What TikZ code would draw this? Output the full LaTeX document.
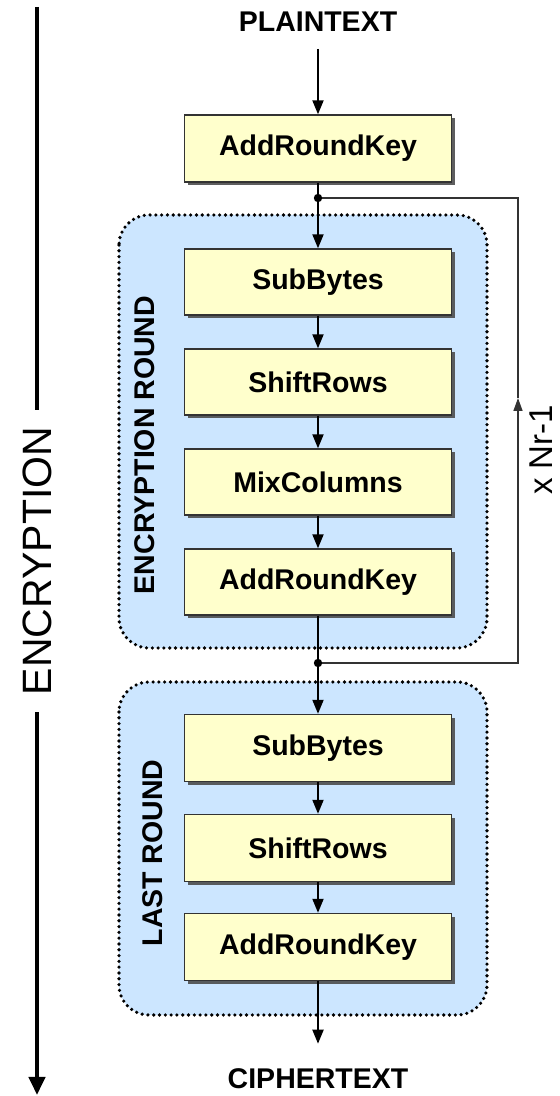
\documentclass[tikz,border=0pt]{standalone}
\usepackage{fontspec}
\setmainfont{Liberation Sans}
\usetikzlibrary{arrows.meta,shadows}
\definecolor{stepyellow}{RGB}{255,255,204}
\definecolor{roundblue}{RGB}{204,230,255}

\begin{document}
\begin{tikzpicture}[x=1pt, y=1pt, node distance=100pt,
        stepbox/.style={draw=black!80, line width=1.4pt, fill=stepyellow,
            minimum width=267pt, minimum height=66pt, inner sep=0pt,
            font=\bfseries\fontsize{28.5}{30}\selectfont,
            drop shadow={shadow xshift=3.5pt, shadow yshift=-3.5pt, fill=black!70, opacity=.9}},
        roundbox/.style={fill=roundblue, draw=black, line width=3.6pt,
            dash pattern=on 0pt off 5.8pt, line cap=round, rounded corners=30pt},
        roundlbl/.style={rotate=90, font=\bfseries\fontsize{28.5}{30}\selectfont},
        endtext/.style={font=\bfseries\fontsize{28.5}{30}\selectfont, inner xsep=2pt, inner ysep=1pt},
        flow/.style={-{Triangle[length=14pt,width=11pt]}, line width=2pt},
        loopline/.style={draw=black!80, line width=1.5pt}]
                \useasboundingbox (0,0) rectangle (560,1096);
                % round containers
                \draw[roundbox] (119,881) rectangle (487,448);
                \draw[roundbox] (119,414) rectangle (487,81);
                \node[roundlbl] (encround) at (145,651) {ENCRYPTION ROUND};
                \node[roundlbl] (lastround) at (153,243) {LAST ROUND};
                % steps
                \node[endtext] (plain) at (318,1074) {PLAINTEXT};
                \node[stepbox, minimum height=67pt] (ark1) at (318,947.5) {AddRoundKey};
                \node[stepbox] (sub1) at (318,814) {SubBytes};
                \node[stepbox] (shift1) [below of=sub1] {ShiftRows};
                \node[stepbox] (mix1) [below of=shift1] {MixColumns};
                \node[stepbox] (ark2) [below of=mix1] {AddRoundKey};
                \node[stepbox, minimum height=67pt] (sub2) at (318,348) {SubBytes};
                \node[stepbox, minimum height=67pt] (shift2) [below of=sub2] {ShiftRows};
                \node[stepbox, minimum height=67pt] (ark3) at (318,149) {AddRoundKey};
                \node[endtext] (cipher) at (318,17) {CIPHERTEXT};
                \coordinate (j1) at (318,898);
                \coordinate (j2) at (318,433);
                \path[flow]
                    (plain) edge[shorten <=16pt] (ark1)
                    (ark1) edge (sub1)
                    (sub1) edge (shift1)
                    (shift1) edge (mix1)
                    (mix1) edge (ark2)
                    (ark2) edge (sub2)
                    (sub2) edge (shift2)
                    (shift2) edge (ark3)
                    (ark3) edge[shorten >=24pt] (cipher);
                % repeat loop
                \coordinate (loopbot) at (518,433);
                \coordinate (loopmid) at (518,698);
                \coordinate (looptop) at (518,898);
                \draw[loopline, -{Triangle[length=13pt,width=9pt]}] (j2) -- (loopbot) -- (loopmid);
                \draw[loopline] (loopmid) -- (looptop) -- (j1);
                \fill (j1) circle (4.2pt);
                \fill (j2) circle (4.2pt);
                \node[rotate=90, font=\fontsize{33}{35}\selectfont, inner sep=1pt] (times) at (541,646) {x Nr-1};
                % encryption direction
                \node[rotate=90, font=\fontsize{41}{44}\selectfont, inner xsep=17pt, inner ysep=2pt] (enc) at (37,535) {ENCRYPTION};
                \coordinate (encstart) at (37,1089);
                \coordinate (encend) at (37,1);
                \draw[line width=4pt] (encstart) -- (enc);
                \draw[line width=4pt, -{Triangle[length=18pt,width=16pt]}] (enc) -- (encend);
            \end{tikzpicture}
\end{document}
